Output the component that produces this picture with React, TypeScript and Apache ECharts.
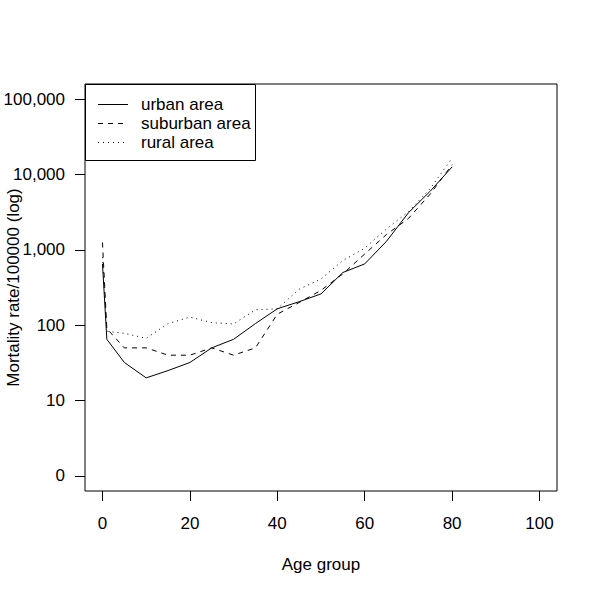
import React, { useEffect, useRef } from "react";
import * as echarts from "echarts";

const ages = [0, 1, 5, 10, 15, 20, 25, 30, 35, 40, 45, 50, 55, 60, 65, 70, 75, 80];
const urban = [650, 65, 32, 20, 25, 32, 50, 65, 105, 165, 205, 260, 500, 650, 1300, 3100, 6000, 12600];
const suburban = [1250, 90, 50, 50, 40, 40, 50, 40, 50, 140, 200, 290, 480, 880, 1600, 2600, 5500, 13500];
const rural = [800, 83, 78, 67, 105, 128, 108, 104, 160, 165, 300, 410, 720, 1050, 1900, 3200, 6500, 16500];

const xTicks = [0, 20, 40, 60, 80, 100];
const yTicks = [0, 1, 2, 3, 4, 5];
const yTickLabels = ["0", "10", "100", "1,000", "10,000", "100,000"];

const seriesNames = ["urban area", "suburban area", "rural area"];

const FONT = '"Liberation Sans", Arial, Helvetica, sans-serif';
const FS = 17;

export default function App() {
  const ref = useRef<HTMLDivElement>(null);
  useEffect(() => {
    if (!ref.current) return;
    const chart = echarts.init(ref.current, undefined, { renderer: "svg" });
    const toData = (vals: number[]) => ages.map((a, i) => [a, Math.log10(vals[i])]);
    const dashes: any[] = ["solid", [5, 5], [1, 4]];
    const option: any = {
      animation: false,
      backgroundColor: "#fff",
      textStyle: { fontFamily: FONT, color: "#000" },
      grid: {
        left: 85,
        top: 84,
        right: 43,
        bottom: 107,
        show: true,
        borderColor: "#000",
        borderWidth: 1,
        backgroundColor: "transparent",
        containLabel: false,
        outerBoundsMode: "none",
      },
      xAxis: {
        type: "value",
        min: -4,
        max: 104,
        name: "Age group",
        nameLocation: "middle",
        nameGap: 65,
        nameMoveOverlap: false,
        nameTextStyle: { fontSize: FS, color: "#000", fontFamily: FONT },
        axisLine: { show: false, onZero: false },
        splitLine: { show: false },
        axisTick: { show: true, inside: false, length: 10, lineStyle: { color: "#000" }, customValues: xTicks },
        axisLabel: {
          color: "#000",
          fontSize: FS,
          fontFamily: FONT,
          margin: 24,
          customValues: xTicks,
          formatter: (v: number) => String(v),
        },
      },
      yAxis: {
        type: "value",
        min: -0.2,
        max: 5.2,
        name: "Mortality rate/100000 (log)",
        nameLocation: "middle",
        nameGap: 63,
        nameMoveOverlap: false,
        nameTextStyle: { fontSize: FS, color: "#000", fontFamily: FONT },
        axisLine: { show: false, onZero: false },
        splitLine: { show: false },
        axisTick: { show: true, inside: false, length: 10, lineStyle: { color: "#000" }, customValues: yTicks },
        axisLabel: {
          color: "#000",
          fontSize: FS,
          fontFamily: FONT,
          margin: 20,
          customValues: yTicks,
          formatter: (v: number) => {
            const i = yTicks.indexOf(Math.round(v));
            return i >= 0 ? yTickLabels[i] : "";
          },
        },
      },
      series: [urban, suburban, rural].map((vals, i) => ({
        type: "line",
        name: seriesNames[i],
        data: toData(vals),
        showSymbol: false,
        symbol: "none",
        lineStyle: { color: "#000", width: 1, type: dashes[i] },
      })),
      graphic: [
        {
          type: "rect",
          shape: { x: 85.5, y: 84.5, width: 170, height: 76 },
          style: { fill: "#fff", stroke: "#000", lineWidth: 1 },
          z: 10,
        },
        ...seriesNames.flatMap((name, i) => {
          const y = 104 + i * 19;
          return [
            {
              type: "line",
              shape: { x1: 98, y1: y + 0.5, x2: 128, y2: y + 0.5 },
              style: {
                stroke: "#000",
                lineWidth: 1,
                lineDash: i === 0 ? null : i === 1 ? [5, 5] : [1, 4],
              },
              z: 11,
            },
            {
              type: "text",
              x: 141,
              y: y,
              style: {
                text: name,
                fill: "#000",
                font: `${FS}px ${FONT}`,
                verticalAlign: "middle",
                align: "left",
              },
              z: 11,
            },
          ];
        }),
      ],
    };
    chart.setOption(option);
    return () => chart.dispose();
  }, []);
  return (
    <div
      ref={ref}
      style={{ position: "fixed", left: 0, top: 0, width: 600, height: 598, background: "#fff" }}
    />
  );
}
